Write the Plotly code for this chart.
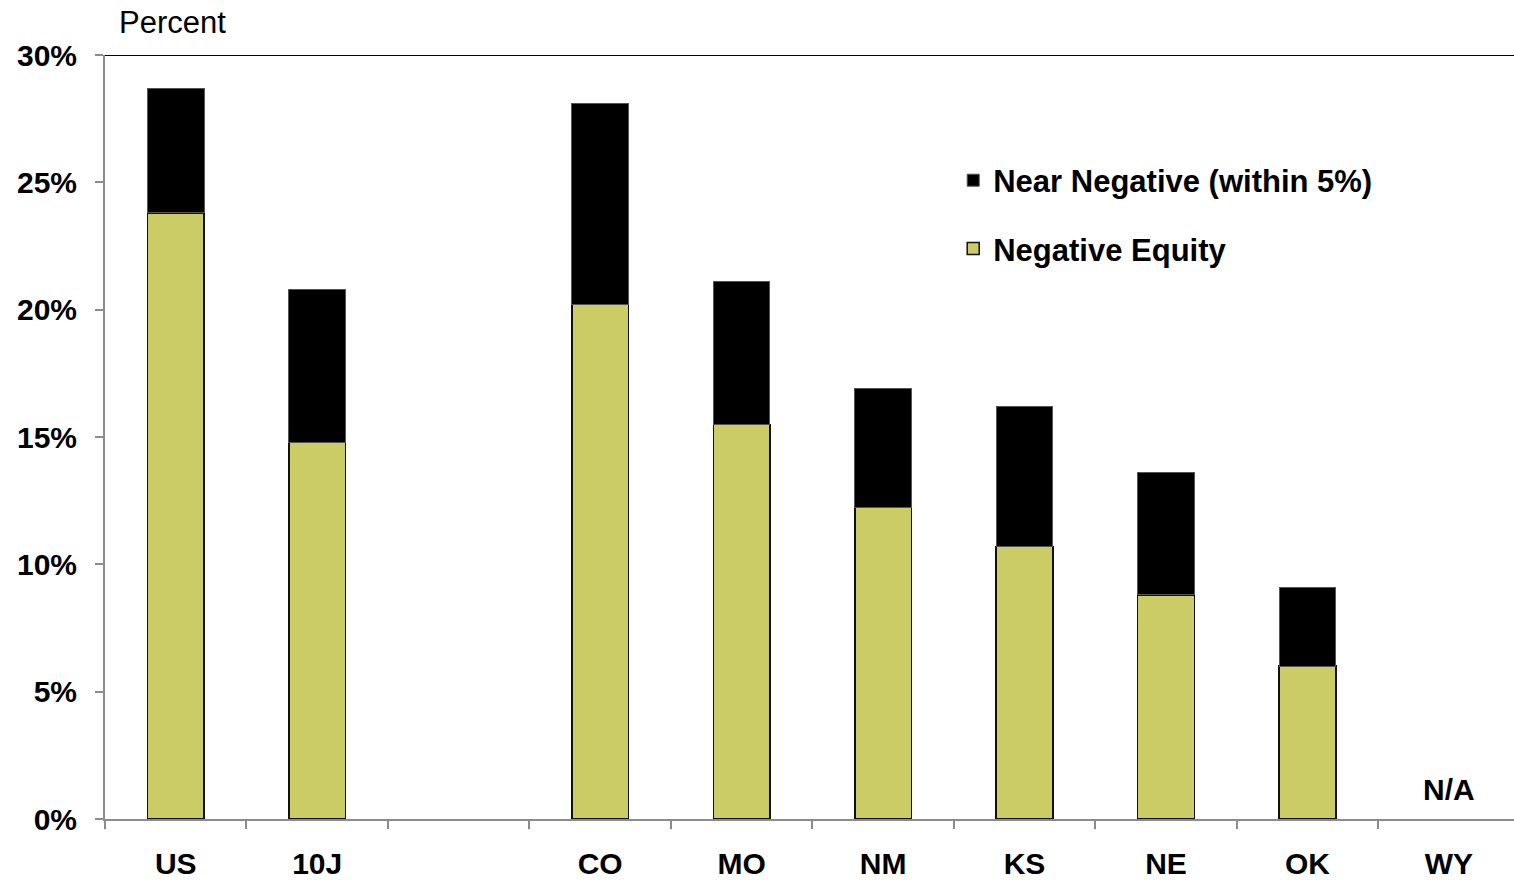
import plotly.graph_objects as go

# Share of mortgaged properties, by area (percent)
categories = ["US", "10J", " ", "CO", "MO", "NM", "KS", "NE", "OK", "WY"]
negative_equity = [23.8, 14.8, None, 20.2, 15.5, 12.25, 10.7, 8.8, 6.0, None]
near_negative = [4.9, 6.0, None, 7.9, 5.6, 4.65, 5.5, 4.8, 3.1, None]
y_ticks = [0, 5, 10, 15, 20, 25, 30]
y_tick_labels = ["0%", "5%", "10%", "15%", "20%", "25%", "30%"]

FONT = "Liberation Sans, Arial, sans-serif"
OLIVE = "#CCCC66"
AXIS_GREY = "#8C8C8C"

fig = go.Figure()
fig.add_trace(go.Bar(
    x=categories, y=negative_equity, name="Negative Equity",
    marker=dict(color=OLIVE, line=dict(color="#111111", width=1.5)),
    width=0.4, legendgroup="neg", legendrank=2,
))
fig.add_trace(go.Bar(
    x=categories, y=near_negative, name="Near Negative (within 5%)",
    marker=dict(color="#000000", line=dict(color="#555555", width=1)),
    width=0.4, legendgroup="near", legendrank=1,
))

fig.update_layout(
    width=1514, height=880,
    barmode="stack",
    plot_bgcolor="white", paper_bgcolor="white",
    margin=dict(l=105, r=0, t=55, b=61),
    font=dict(family=FONT, color="black"),
    showlegend=True,
    legend=dict(
        x=0.602, y=0.871, xanchor="left", yanchor="top",
        traceorder="grouped", tracegroupgap=25,
        font=dict(family=FONT, size=31, weight="bold", color="black"),
        itemwidth=30, bgcolor="rgba(0,0,0,0)",
    ),
    xaxis=dict(
        type="category", categoryorder="array", categoryarray=categories,
        range=[-0.5, 9.46],
        showline=True, linecolor=AXIS_GREY, linewidth=2,
        ticks="outside", tickson="boundaries", ticklen=8,
        tickcolor=AXIS_GREY, tickwidth=2,
        tickfont=dict(family=FONT, size=30, weight="bold", color="black"),
        ticklabelstandoff=17,
        showgrid=False, zeroline=False,
    ),
    yaxis=dict(
        range=[0, 30], tickmode="array", tickvals=y_ticks, ticktext=y_tick_labels,
        showline=True, linecolor=AXIS_GREY, linewidth=2,
        ticks="outside", ticklen=8, tickcolor=AXIS_GREY, tickwidth=2,
        tickfont=dict(family=FONT, size=30, weight="bold", color="black"),
        ticklabelstandoff=12,
        showgrid=False, zeroline=False,
    ),
)

# top border of the plotting area
fig.add_shape(type="line", xref="paper", yref="y", x0=0, x1=1, y0=30, y1=30,
              line=dict(color="black", width=2))

fig.add_annotation(text="Percent", xref="paper", yref="paper",
                   x=0.0085, y=1.042, xanchor="left", yanchor="middle",
                   showarrow=False, font=dict(family=FONT, size=31, color="black"))
fig.add_annotation(text="N/A", xref="x", yref="y", x="WY", y=1.14,
                   xanchor="center", yanchor="middle", showarrow=False,
                   font=dict(family=FONT, size=30, weight="bold", color="black"))

fig.write_html("out.html")
